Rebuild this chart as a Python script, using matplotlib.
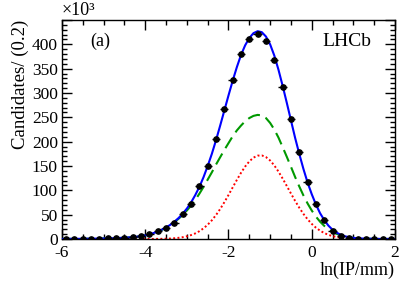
from matplotlib import pyplot as plt
from matplotlib.ticker import MultipleLocator, FuncFormatter
import numpy as np

plt.rcParams['font.family'] = ['Liberation Serif', 'DejaVu Serif']

# bin centres (width 0.2) and candidates per bin, in units of 10^3
bin_x = [-5.9, -5.7, -5.5, -5.3, -5.1, -4.9, -4.7, -4.5, -4.3, -4.1,
         -3.9, -3.7, -3.5, -3.3, -3.1, -2.9, -2.7, -2.5, -2.3, -2.1,
         -1.9, -1.7, -1.5, -1.3, -1.1, -0.9, -0.7, -0.5, -0.3, -0.1,
         0.1, 0.3, 0.5, 0.7, 0.9, 1.1, 1.3, 1.5, 1.7, 1.9]
counts = [0.2, 0.3, 0.4, 0.6, 0.8, 1.2, 1.7, 2.5, 3.8, 6.0,
          10.5, 16, 23, 33, 51, 72, 108, 151, 205, 268,
          327, 380, 410, 421, 406, 367, 312, 246, 178, 118,
          72, 39, 17, 6, 2, 0.8, 0.4, 0.2, 0.1, 0.1]

# fit curves sampled every 0.1 from -6 to 2
curve_x = np.round(np.arange(-6.0, 2.05, 0.1), 2)
total_fit = [0.15, 0.2, 0.25, 0.3, 0.35, 0.4, 0.5, 0.6, 0.7, 0.85,
             1.0, 1.2, 1.45, 1.75, 2.1, 2.6, 3.1, 3.8, 4.7, 5.9,
             7.5, 9.5, 12.2, 15.5, 19.3, 23.8, 29, 35.5, 43, 52,
             62.5, 75, 90, 107, 127, 150, 175, 203, 233, 264,
             295, 325, 353, 378, 398, 413, 423, 427, 425, 416,
             400, 377, 348, 315, 280, 244, 208, 175, 144, 116,
             92, 71, 53, 39, 27.5, 19, 13, 8.5, 5.5, 3.5,
             2.3, 1.5, 1.0, 0.65, 0.45, 0.3, 0.2, 0.15, 0.1, 0.07, 0.05]
comp_a = [0.15, 0.2, 0.25, 0.3, 0.35, 0.4, 0.5, 0.6, 0.7, 0.85,
          1.0, 1.2, 1.45, 1.75, 2.1, 2.6, 3.1, 3.75, 4.6, 5.8,
          7.3, 9.3, 11.9, 15.0, 18.8, 23.2, 28.4, 34.5, 41.5, 49.5,
          58.5, 68.5, 80, 93, 107, 122, 137, 153, 168, 183,
          197, 211, 223, 233, 242, 248.5, 253, 255, 254, 248.5,
          238.5, 225, 208.5, 189, 169, 148.5, 127.5, 108, 89.5, 73,
          58.5, 46, 35.5, 27, 20, 14.5, 10.5, 7.4, 5.1, 3.5,
          2.3, 1.5, 1.0, 0.65, 0.45, 0.3, 0.2, 0.15, 0.1, 0.07, 0.05]
comp_b = [0, 0, 0, 0, 0, 0, 0, 0, 0, 0,
          0, 0, 0, 0, 0, 0, 0, 0, 0, 0,
          0.04, 0.08, 0.15, 0.25, 0.35, 0.6, 0.95, 1.55, 2.4, 3.7,
          5.5, 8.0, 11.4, 16.0, 21.9, 29.3, 38.4, 49.2, 61.6, 75.5,
          90.4, 105.9, 121.3, 135.9, 148.9, 159.5, 167.2, 171.3, 171.7, 168.3,
          161.3, 151.2, 138.6, 124.3, 109.0, 93.5, 78.4, 64.3, 51.6, 40.5,
          31.0, 23.3, 17.1, 12.2, 8.6, 5.9, 4.0, 2.6, 1.7, 1.05,
          0.64, 0.38, 0.22, 0.12, 0.07, 0.04, 0.02, 0.01, 0, 0, 0]

fig = plt.figure(figsize=(4.15, 2.81), dpi=100)
ax = fig.add_axes([0.1494, 0.1495, 0.8024, 0.7793])

ax.plot(curve_x, comp_b, color='red', ls=(0, (1, 1.2)), lw=1.4, zorder=2)
ax.plot(curve_x, comp_a, color='#009900', ls=(0, (6, 3)), lw=1.5, zorder=3)
ax.plot(curve_x, total_fit, color='blue', lw=1.5, zorder=4)
ax.errorbar(bin_x, counts, xerr=0.1, fmt='o', color='black', ms=3.8,
            elinewidth=1.0, capsize=0, zorder=5)

ax.set_xlim(-6, 2)
ax.set_ylim(0, 450)

ax.xaxis.set_major_locator(MultipleLocator(2))
ax.xaxis.set_minor_locator(MultipleLocator(0.5))
ax.yaxis.set_major_locator(MultipleLocator(50))
ax.yaxis.set_minor_locator(MultipleLocator(10))
ax.xaxis.set_major_formatter(FuncFormatter(lambda v, p: '%d' % v))
ax.yaxis.set_major_formatter(FuncFormatter(lambda v, p: '%d' % v if v <= 400 else ''))

ax.tick_params(which='both', direction='in', top=True, right=True,
               labelsize=12.5, width=1.0, colors='black')
ax.tick_params(which='major', length=7)
ax.tick_params(which='minor', length=3.5)
ax.tick_params(axis='y', which='major', pad=3)
ax.tick_params(axis='x', which='major', pad=4.5)
for s in ax.spines.values():
    s.set_linewidth(1.0)

ax.set_xlabel('ln(IP/mm)', fontsize=13, loc='right', labelpad=0)
ax.set_ylabel('Candidates/ (0.2)', fontsize=13.5, loc='top', labelpad=2)

ax.text(0.0, 1.005, '\u00d710\u00b3', transform=ax.transAxes, fontsize=13,
        ha='left', va='bottom')
ax.text(0.085, 0.94, '(a)', transform=ax.transAxes, fontsize=13,
        ha='left', va='top')
ax.text(0.93, 0.94, 'LHCb', transform=ax.transAxes, fontsize=14,
        ha='right', va='top')

fig.savefig('out.png', dpi=100)
